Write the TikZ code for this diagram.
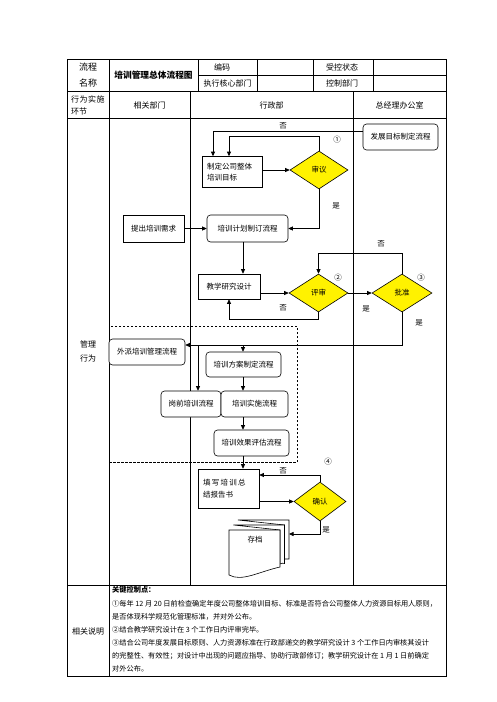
\documentclass[tikz,border=0pt]{standalone}
\usepackage{fontspec}
\setmainfont{Noto Sans CJK SC}
\usetikzlibrary{shapes.geometric,arrows.meta,calc}
\newcommand\fsa{\fontsize{7.5pt}{11.5pt}\selectfont}
\newcommand\fsb{\fontsize{7.2pt}{10pt}\selectfont}
\newcommand\fsc{\fontsize{8pt}{12pt}\selectfont}
\begin{document}
\begin{tikzpicture}[x=1pt,y=-1pt,
  tab/.style={line width=0.8pt},
  box/.style={draw, line width=0.6pt, fill=white, inner sep=0pt, font=\fsa},
  rbox/.style={box, rounded corners=3.5pt},
  dia/.style={diamond, draw, line width=0.6pt, fill=yellow, inner sep=0pt, font=\fsa},
  lbl/.style={font=\fsa, inner sep=0pt},
  hd/.style={font=\fsc, inner sep=0pt},
  note/.style={font=\fsb, inner sep=0pt, anchor=west},
  arr/.style={-{Triangle[length=4.5pt,width=4pt]}, line width=0.7pt},
  ln/.style={line width=0.7pt}]
\useasboundingbox (0,0) rectangle (496,702);
\fill[white] (0,0) rectangle (496,702);
% ---------- table ----------
\draw[tab] (67,59) rectangle (446,676);
\draw[tab] (198,75) -- (446,75);
\draw[tab] (67,91) -- (446,91);
\draw[tab] (67,118) -- (446,118);
\draw[tab] (67,585) -- (446,585);
\draw[tab] (109,59) -- (109,676);
\draw[tab] (198,59) -- (198,91);
\draw[tab] (257,59) -- (257,91);
\draw[tab] (313,59) -- (313,91);
\draw[tab] (373,59) -- (373,91);
\draw[tab] (190,91) -- (190,585);
\draw[tab] (353,91) -- (353,585);
% header texts
\node[font=\fontsize{9pt}{16pt}\selectfont, align=center, inner sep=0pt] (h1) at (88,75) {流程\\名称};
\node[font=\bfseries\fontsize{8.7pt}{10pt}\selectfont, inner sep=0pt] (h2) at (153.5,75) {培训管理总体流程图};
\node[hd] (h3) at (222,67) {编码};
\node[hd] (h4) at (227.5,83) {执行核心部门};
\node[hd] (h5) at (342,67) {受控状态};
\node[hd] (h6) at (342,83) {控制部门};
\node[hd, align=left, anchor=west, font=\fontsize{8pt}{12pt}\selectfont] (h7) at (71,105) {行\hspace{0.5pt}为\hspace{0.5pt}实\hspace{0.5pt}施\\环节};
\node[hd] (h8) at (149.5,105) {相关部门};
\node[hd] (h9) at (271.5,105) {行政部};
\node[hd] (h10) at (399.5,105) {总经理办公室};
\node[hd, align=center, font=\fontsize{8pt}{14pt}\selectfont] (h11) at (88,351) {管理\\行为};
\node[hd] (h12) at (88,631) {相关说明};
% ---------- dashed group ----------
\draw[line width=0.7pt, dash pattern=on 2.5pt off 1.5pt] (109,326) rectangle (297,462);
% ---------- nodes ----------
\node[box, minimum width=60pt, minimum height=31pt, text width=50pt, align=left] (zd) at (232,172) {制定公司整体\\培训目标};
\node[dia, minimum width=58pt, minimum height=38pt] (sy) at (319,170) {审议};
\node[rbox, minimum width=75pt, minimum height=26pt] (fz) at (400.5,137) {发展目标制定流程};
\node[box, minimum width=61pt, minimum height=27pt] (tc) at (153.5,228.5) {提出培训需求};
\node[rbox, minimum width=81pt, minimum height=27pt] (jh) at (247.5,228.5) {培训计划制订流程};
\node[box, minimum width=62pt, minimum height=25pt] (jx) at (229,286.5) {教学研究设计};
\node[dia, minimum width=59pt, minimum height=38pt] (ps) at (318.5,293) {评审};
\node[dia, minimum width=60pt, minimum height=38pt] (pz) at (402,293) {批准};
\node[rbox, minimum width=76pt, minimum height=26pt] (wp) at (147,352) {外派培训管理流程};
\node[rbox, minimum width=75pt, minimum height=25pt] (fa) at (243.5,364.5) {培训方案制定流程};
\node[rbox, minimum width=60pt, minimum height=26pt] (gq) at (191,404) {岗前培训流程};
\node[rbox, minimum width=67pt, minimum height=26pt] (ss) at (254.5,404) {培训实施流程};
\node[rbox, minimum width=75pt, minimum height=26pt] (pg) at (251.5,443) {培训效果评估流程};
\node[box, minimum width=61pt, minimum height=39pt, text width=51pt, align=left] (tx) at (228.5,488.5) {填\hspace{1.3pt}写\hspace{1.3pt}培\hspace{1.3pt}训\hspace{1.3pt}总\\结报告书};
\node[dia, minimum width=52pt, minimum height=39pt] (qr) at (320,501.5) {确认};
% archive (multi document)
\draw[line width=0.6pt, fill=white] (238,520) -- (289,520) -- (289,559) .. controls (287,558.5) and (286,558.5) .. (284.5,559) -- (284.5,525) -- cycle;
\draw[line width=0.6pt, fill=white] (233.5,525) -- (284.5,525) -- (284.5,563.5) .. controls (283,563) and (282,563) .. (280,564) -- (280,530) -- cycle;
\draw[line width=0.6pt, fill=white] (229,530) -- (280,530) -- (280,567) .. controls (258,572) and (242,582) .. (229,575) -- cycle;
\node[lbl] (cd) at (255,540) {存档};
\coordinate (cdr) at (289,534);
% ---------- labels ----------
\node[lbl] (l1) at (283,126) {否};
\node[lbl] (l2) at (337,140) {①};
\node[lbl] (l3) at (336,206) {是};
\node[lbl] (l4) at (381,244) {否};
\node[lbl] (l5) at (338,278) {②};
\node[lbl] (l6) at (421,278) {③};
\node[lbl] (l7) at (283,308) {否};
\node[lbl] (l8) at (366,309) {是};
\node[lbl] (l9) at (419,323) {是};
\node[lbl] (l10) at (328,462) {④};
\node[lbl] (l11) at (283,471) {否};
\node[lbl] (l12) at (326,530) {是};
% ---------- connectors ----------
\coordinate (c1) at (243,0);
\coordinate (c2) at (198,0);
\draw[arr] ([yshift=6pt]fz.west) -| ([xshift=-19pt]zd.north);
\draw[arr] (sy.north) -- ++(0,-14) -| ([xshift=-3pt]zd.north);
\draw[arr] (zd.east |- sy.west) -- (sy.west);
\draw[arr] (sy.south) |- (jh.east);
\draw[arr] (tc.east) -- (jh.west);
\draw[arr] (jh.south -| c1) -- (jx.north -| c1);
\draw[arr] (jx.east |- ps.west) -- (ps.west);
\draw[arr] (ps.south) -- ++(0,7) -| (jx.south);
\draw[arr] (ps.east) -- (pz.west);
\draw[arr] (pz.north) -- ++(0,-20) -| (ps.north);
\coordinate (j1) at ([yshift=7pt]wp.east);
\draw[arr] (pz.south) |- (j1);
\draw[arr] (j1 -| c1) -- (fa.north -| c1);
\draw[arr] (j1 -| c2) -- (gq.north -| c2);
\draw[arr] (fa.south -| c1) -- (ss.north -| c1);
\draw[arr] (ss.south -| c1) -- (pg.north -| c1);
\draw[arr] (pg.south -| c1) -- (tx.north -| c1);
\draw[arr] (tx.east |- qr.west) -- (qr.west);
\draw[arr] (qr.north) |- ([yshift=13.5pt]tx.east);
\draw[arr] (qr.south) |- (cdr);
% ---------- notes ----------
\node[note, font=\bfseries\fsb] (n0) at (112,590) {关键控制点：};
\node[note] (n1) at (112,603.5) {①每年 12 月 20 日前检查确定年度公司整体培训目标、标准是否符合公司整体人力资源目标用人原则，};
\node[note] (n2) at (112,617) {是否体现科学规范化管理标准，并对外公布。};
\node[note] (n3) at (112,630) {②结合教学研究设计在 3 个工作日内评审完毕。};
\node[note] (n4) at (112,643) {③结合公司年度发展目标原则、人力资源标准在行政部递交的教学研究设计 3 个工作日内审核其设计};
\node[note] (n5) at (112,656) {的完整性、有效性；对设计中出现的问题应指导、协助行政部修订；教学研究设计在 1 月 1 日前确定};
\node[note] (n6) at (112,669) {对外公布。};
\end{tikzpicture}
\end{document}
